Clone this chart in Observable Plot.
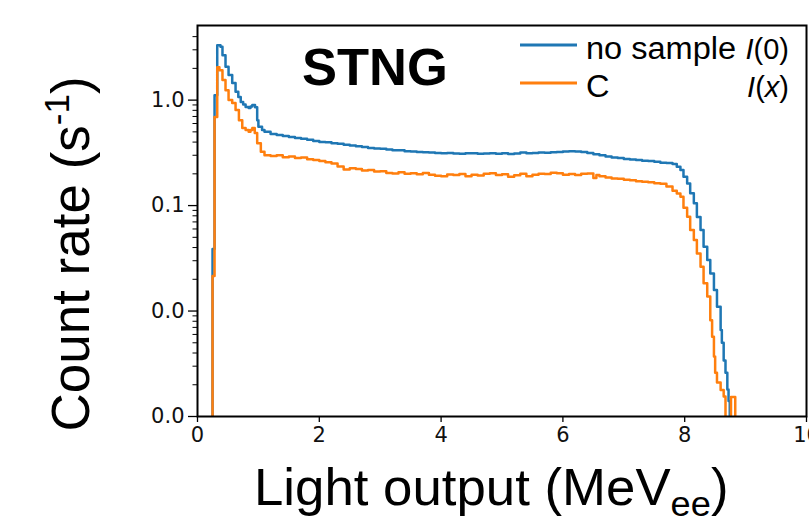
<!DOCTYPE html>
<html>
<head>
<meta charset="utf-8">
<script src="https://cdn.jsdelivr.net/npm/d3@7"></script>
<script src="https://cdn.jsdelivr.net/npm/@observablehq/plot@0.6"></script>
<style>
  html, body { margin: 0; padding: 0; background: #fff; }
  #wrap { position: relative; width: 809px; height: 522px; overflow: hidden; }
  #wrap svg { display: block; }
  #overlay { position: absolute; left: 0; top: 0; pointer-events: none; }
</style>
</head>
<body>
<div id="wrap"><div id="chart"></div></div>
<script>
// ---------- data ----------
const seriesNames = ["no sample", "C"];
const seriesTags = ["I(0)", "I(x)"];

const blueX = [0.20, 0.247, 0.28, 0.324, 0.378, 0.41, 0.46, 0.51, 0.57, 0.625, 0.67, 0.71, 0.75, 0.79, 0.84, 0.87, 0.90, 0.945, 0.98, 1.0, 1.06,
  1.1, 1.2, 1.3, 1.4, 1.5, 1.6, 1.7, 1.8, 1.9, 2.0, 2.1, 2.2, 2.3, 2.4, 2.5, 2.6, 2.7, 2.8, 2.9, 3.0,
  3.1, 3.2, 3.3, 3.4, 3.5, 3.6, 3.7, 3.8, 3.9, 4.0, 4.1, 4.2, 4.3, 4.4, 4.5, 4.6, 4.7, 4.8, 4.9, 5.0,
  5.1, 5.2, 5.3, 5.4, 5.5, 5.6, 5.7, 5.8, 5.9, 6.0, 6.1, 6.2, 6.3, 6.4, 6.5, 6.6, 6.7, 6.8, 6.9, 7.0,
  7.1, 7.2, 7.3, 7.4, 7.5, 7.6, 7.7, 7.8,
  7.87, 7.93, 7.98, 8.04, 8.09, 8.15, 8.20, 8.26, 8.31, 8.37, 8.42, 8.48, 8.53, 8.59, 8.61, 8.64, 8.67, 8.70, 8.72, 8.74];
const blueY = [0, 0.0387, 1.115, 3.32, 3.2, 2.67, 2.07, 1.73, 1.45, 1.2, 1.07, 0.96, 0.91, 0.86, 0.84, 0.87, 0.897, 0.858, 0.646, 0.558, 0.52,
  0.50, 0.476, 0.466, 0.458, 0.446, 0.438, 0.43, 0.42, 0.41, 0.40, 0.398, 0.39, 0.385, 0.378, 0.372, 0.366, 0.36, 0.352, 0.348, 0.345,
  0.34, 0.335, 0.334, 0.328, 0.325, 0.322, 0.32, 0.318, 0.315, 0.313, 0.316, 0.312, 0.31, 0.313, 0.314, 0.31, 0.312, 0.314, 0.31, 0.313,
  0.309, 0.312, 0.318, 0.314, 0.316, 0.318, 0.317, 0.32, 0.322, 0.325, 0.327, 0.326, 0.322, 0.315, 0.307, 0.3, 0.292, 0.286, 0.282, 0.276,
  0.273, 0.27, 0.266, 0.264, 0.26, 0.255, 0.253, 0.248,
  0.234, 0.217, 0.188, 0.162, 0.131, 0.105, 0.078, 0.0586, 0.0408, 0.0304, 0.0227, 0.0158, 0.011, 0.0066, 0.005, 0.0034, 0.0026, 0.0018, 0.0014, 0];

const orangeX = [0.20, 0.247, 0.28, 0.324, 0.36, 0.41, 0.46, 0.51, 0.57, 0.625, 0.68, 0.735, 0.79, 0.84, 0.87, 0.90, 0.94, 0.98, 1.04,
  1.1, 1.2, 1.3, 1.4, 1.5, 1.6, 1.7, 1.8, 1.9, 2.0, 2.1, 2.2, 2.3, 2.4, 2.5, 2.6, 2.7, 2.8, 2.9, 3.0,
  3.1, 3.2, 3.3, 3.4, 3.5, 3.6, 3.7, 3.8, 3.9, 4.0, 4.1, 4.2, 4.3, 4.4, 4.5, 4.6, 4.7, 4.8, 4.9, 5.0,
  5.1, 5.2, 5.3, 5.4, 5.5, 5.6, 5.7, 5.8, 5.9, 6.0, 6.1, 6.2, 6.3, 6.4, 6.5, 6.55, 6.6, 6.7, 6.8, 6.9, 7.0,
  7.1, 7.2, 7.3, 7.4, 7.5, 7.6, 7.7, 7.8,
  7.87, 7.93, 7.98, 8.04, 8.09, 8.15, 8.20, 8.26, 8.31, 8.37, 8.42, 8.45, 8.48, 8.50, 8.53, 8.59, 8.64, 8.67, 8.76, 8.83];
const orangeY = [0, 0.0215, 0.69, 2.05, 1.92, 1.55, 1.24, 1.0, 0.937, 0.804, 0.646, 0.543, 0.52, 0.5, 0.52, 0.543, 0.487, 0.391, 0.324,
  0.30, 0.295, 0.30, 0.288, 0.292, 0.282, 0.286, 0.275, 0.27, 0.264, 0.258, 0.25, 0.235, 0.22, 0.226, 0.222, 0.215, 0.218, 0.21, 0.212,
  0.204, 0.202, 0.207, 0.2, 0.203, 0.198, 0.204, 0.196, 0.192, 0.19, 0.197, 0.195, 0.199, 0.19, 0.196, 0.193, 0.2, 0.203, 0.195, 0.198,
  0.188, 0.194, 0.2, 0.19, 0.196, 0.2, 0.199, 0.205, 0.203, 0.196, 0.199, 0.195, 0.2, 0.202, 0.183, 0.195, 0.19, 0.185, 0.181, 0.18, 0.176,
  0.174, 0.17, 0.168, 0.166, 0.163, 0.161, 0.152, 0.138,
  0.13, 0.121, 0.0955, 0.0782, 0.0586, 0.0471, 0.0351, 0.0263, 0.0183, 0.0137, 0.0082, 0.0057, 0.0037, 0.0026, 0.0021, 0.00178, 0.00155, 0, 0.00153, 0];

const xTicks = [0, 2, 4, 6, 8, 10];
const yMajor = [0.001, 0.01, 0.1, 1];
const yMinor = [0.002,0.003,0.004,0.005,0.006,0.007,0.008,0.009,
                0.02,0.03,0.04,0.05,0.06,0.07,0.08,0.09,
                0.2,0.3,0.4,0.5,0.6,0.7,0.8,0.9, 2,3,4];
const colors = ["#1f77b4", "#ff7f0e"];

// ---------- build ----------
const FLOOR = 1e-6; // empty bins drawn below the log axis (clipped)
const toRows = (xs, ys, s) => xs.map((x, i) => ({x, y: ys[i] > 0 ? ys[i] : FLOOR, s}));
const blue = toRows(blueX, blueY, seriesNames[0]);
const orange = toRows(orangeX, orangeY, seriesNames[1]);

const chart = Plot.plot({
  width: 809,
  height: 522,
  marginLeft: 197,
  marginRight: 3,
  marginTop: 25,
  marginBottom: 106,
  style: {fontFamily: "DejaVu Sans", fontSize: "20px", color: "#111", background: "white", overflow: "hidden"},
  x: {domain: [0, 10], label: null},
  y: {type: "log", domain: [0.001, 5.1], label: null},
  marks: [
    Plot.line(blue, {x: "x", y: "y", curve: "step-after", stroke: colors[0], strokeWidth: 2.5, clip: true}),
    Plot.line(orange, {x: "x", y: "y", curve: "step-after", stroke: colors[1], strokeWidth: 2.5, clip: true}),
    Plot.axisX(xTicks, {tickSize: 6, tickPadding: 5, tickFormat: d => String(d), fontSize: 21, stroke: "#000", strokeWidth: 1.3}),
    Plot.axisY(yMajor, {tickSize: 9, tickPadding: 4, tickFormat: d3.format(".1f"), fontSize: 21, stroke: "#000", strokeWidth: 1.3}),
    Plot.axisY(yMinor, {tickSize: 4.5, tickFormat: () => "", stroke: "#000", strokeWidth: 1}),
    Plot.frame({stroke: "#000", strokeWidth: 2})
  ]
});
document.getElementById("chart").appendChild(chart);

// ---------- title, legend, axis labels ----------
const NS = "http://www.w3.org/2000/svg";
const ov = document.createElementNS(NS, "svg");
ov.setAttribute("id", "overlay");
ov.setAttribute("width", 809);
ov.setAttribute("height", 522);
ov.innerHTML = `
  <g font-family="Liberation Sans, Arial, sans-serif" fill="#000">
    <text x="302" y="85" font-size="52.5" font-weight="bold">STNG</text>
    <line x1="520" x2="577" y1="45" y2="45" stroke="${colors[0]}" stroke-width="3.2"/>
    <line x1="520" x2="577" y1="83" y2="83" stroke="${colors[1]}" stroke-width="3.2"/>
    <text transform="translate(586,59) scale(1.05,1)" font-size="31">${seriesNames[0]}</text>
    <text x="789" y="59" font-size="29" text-anchor="end"><tspan font-style="italic">I</tspan>(0)</text>
    <text transform="translate(586,97) scale(1.05,1)" font-size="31">${seriesNames[1]}</text>
    <text x="789" y="97" font-size="29" text-anchor="end"><tspan font-style="italic">I</tspan>(<tspan font-style="italic">x</tspan>)</text>
    <text transform="translate(89,254) rotate(-90)" text-anchor="middle" font-size="53">Count rate (s<tspan font-size="35" dy="-20">-1</tspan><tspan dy="20">)</tspan></text>
    <text transform="translate(254,505) scale(1.035,1)" font-size="51">Light output (MeV<tspan font-size="35" dy="11">ee</tspan><tspan dy="-11">)</tspan></text>
  </g>`;
document.getElementById("wrap").appendChild(ov);
</script>
</body>
</html>
